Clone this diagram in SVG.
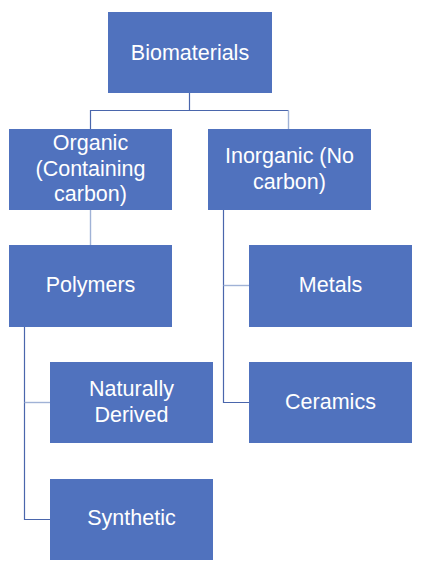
<svg xmlns="http://www.w3.org/2000/svg" width="424" height="570" viewBox="0 0 424 570">
<style>
.box{fill:#5072BE;}
.t{font-family:"Liberation Sans",Arial,sans-serif;font-size:21.5px;fill:#FFFFFF;text-anchor:middle;}
.c{fill:none;stroke:#4A66AC;stroke-width:1.2;}
.cl{fill:none;stroke:#A0B2D6;stroke-width:1.4;}
</style>
<rect width="424" height="570" fill="#FFFFFF"/>
<g id="connectors">
<path class="c" d="M189.5,93 V110.5 H90.5 V129"/>
<path class="c" d="M189.5,110.5 H288.5"/>
<path class="cl" d="M288.5,110.5 V129"/>
<path class="cl" d="M90.5,210 V245"/>
<path class="c" d="M223.5,210 V402.5 H249"/>
<path class="cl" d="M223.5,285.5 H249"/>
<path class="c" d="M24.5,327 V519.5 H50"/>
<path class="cl" d="M24.5,402.5 H50"/>
</g>
<g id="biomaterials">
<rect class="box" x="108" y="12" width="164" height="81"/>
<text class="t" x="190" y="59.5">Biomaterials</text>
</g>
<g id="organic">
<rect class="box" x="9" y="129" width="163" height="81"/>
<text class="t" x="90.5" y="149.5">Organic</text>
<text class="t" x="90.5" y="175.5">(Containing</text>
<text class="t" x="90.5" y="201">carbon)</text>
</g>
<g id="inorganic">
<rect class="box" x="208" y="129" width="163" height="81"/>
<text class="t" x="289.5" y="162.5">Inorganic (No</text>
<text class="t" x="289.5" y="188.5">carbon)</text>
</g>
<g id="polymers">
<rect class="box" x="9" y="245" width="163" height="82"/>
<text class="t" x="90.5" y="291.5">Polymers</text>
</g>
<g id="metals">
<rect class="box" x="249" y="245" width="163" height="82"/>
<text class="t" x="330.5" y="291.5">Metals</text>
</g>
<g id="naturally-derived">
<rect class="box" x="50" y="362" width="163" height="81"/>
<text class="t" x="131.5" y="395.5">Naturally</text>
<text class="t" x="131.5" y="421.5">Derived</text>
</g>
<g id="ceramics">
<rect class="box" x="249" y="362" width="163" height="81"/>
<text class="t" x="330.5" y="409">Ceramics</text>
</g>
<g id="synthetic">
<rect class="box" x="50" y="479" width="163" height="81"/>
<text class="t" x="131.5" y="525">Synthetic</text>
</g>
</svg>
